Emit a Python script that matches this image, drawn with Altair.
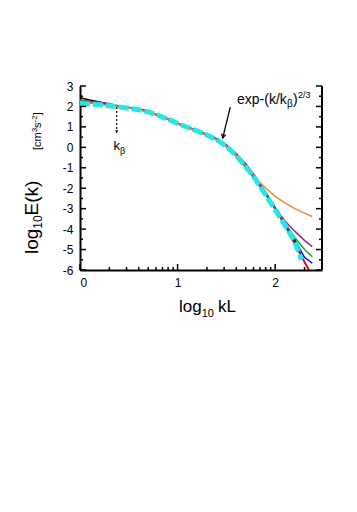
import altair as alt
import pandas as pd

# ---------------- data ----------------
x_grid = [0, 0.1, 0.2, 0.3, 0.4, 0.5, 0.6, 0.7, 0.8, 0.9, 1.0, 1.1, 1.2, 1.3,
          1.4, 1.5, 1.6, 1.7, 1.8, 1.9, 2.0, 2.1, 2.2, 2.3, 2.38]

black_y = [2.42, 2.32, 2.22, 2.10, 2.00, 1.93, 1.86, 1.74, 1.56, 1.38, 1.16, 0.98, 0.80, 0.60,
           0.38, 0.06, -0.38, -0.92, -1.55, -2.27, -3.02, -3.80, -4.65, -5.60, -6.30]
red_y = [2.30, 2.25, 2.17, 2.08, 2.00, 1.93, 1.86, 1.74, 1.56, 1.38, 1.17, 0.98, 0.80, 0.60,
         0.38, 0.07, -0.37, -0.90, -1.53, -2.25, -3.00, -3.80, -4.75, -5.60, -6.25]
blue_y = [2.28, 2.24, 2.16, 2.08, 2.01, 1.95, 1.90, 1.76, 1.58, 1.40, 1.18, 1.00, 0.82, 0.63,
          0.42, 0.12, -0.30, -0.82, -1.45, -2.18, -2.95, -3.72, -4.50, -5.38, -5.67]
green_y = [2.30, 2.24, 2.15, 2.06, 1.98, 1.92, 1.85, 1.73, 1.55, 1.36, 1.15, 0.96, 0.78, 0.58,
           0.36, 0.03, -0.43, -1.00, -1.62, -2.30, -3.00, -3.70, -4.40, -5.00, -5.35]
purple_y = [2.25, 2.22, 2.20, 2.15, 2.02, 1.95, 1.88, 1.75, 1.57, 1.38, 1.17, 0.98, 0.80, 0.61,
            0.40, 0.10, -0.33, -0.86, -1.48, -2.20, -2.95, -3.60, -4.10, -4.55, -4.86]
orange_y = [2.20, 2.16, 2.10, 2.04, 1.98, 1.92, 1.84, 1.72, 1.56, 1.38, 1.16, 0.97, 0.79, 0.60,
            0.38, 0.06, -0.38, -0.90, -1.50, -1.98, -2.40, -2.72, -3.00, -3.22, -3.38]

fit_x = [0, 0.1, 0.2, 0.3, 0.4, 0.5, 0.6, 0.7, 0.8, 0.9, 1.0, 1.1, 1.2, 1.3,
         1.4, 1.5, 1.6, 1.7, 1.8, 1.9, 2.0, 2.1, 2.2, 2.27]
fit_y = [2.15, 2.12, 2.08, 2.03, 1.97, 1.91, 1.84, 1.73, 1.57, 1.38, 1.17, 0.98, 0.80, 0.60,
         0.38, 0.05, -0.40, -0.95, -1.58, -2.30, -3.05, -3.80, -4.60, -5.50]

series = [("black", black_y, "#000000"),
          ("red", red_y, "#ff0000"),
          ("blue", blue_y, "#0000ff"),
          ("green", green_y, "#22a722"),
          ("purple", purple_y, "#9e2a90"),
          ("orange", orange_y, "#f7882f")]
fit_color = "#22e8e8"

X_MIN, X_MAX = 0.0, 2.48
Y_MIN, Y_MAX = -6.0, 3.0
x_major = [0, 1, 2]
x_minor = [0.301, 0.477, 0.602, 0.699, 0.778, 0.845, 0.903, 0.954,
           1.301, 1.477, 1.602, 1.699, 1.778, 1.845, 1.903, 1.954, 2.301]
y_major = [-6, -5, -4, -3, -2, -1, 0, 1, 2, 3]
y_minor = [-5.5, -4.5, -3.5, -2.5, -1.5, -0.5, 0.5, 1.5, 2.5]

# annotation arrows (data coordinates)
kb_arrow = {"x": [0.376], "y": [1.97], "x2": [0.376], "y2": [0.74]}
kb_head = {"x": [0.376], "y": [0.68]}
fit_arrow = {"x": [1.54], "y": [1.97], "x2": [1.463], "y2": [0.46]}

# ---------------- chart ----------------
W, H = 242, 184
FONT = "Liberation Sans"
xs = alt.Scale(domain=[X_MIN, X_MAX], nice=False, zero=False)
ys = alt.Scale(domain=[Y_MIN, Y_MAX], nice=False, zero=False)

xaxis = alt.Axis(values=x_major, ticks=False, labelPadding=7, labelFontSize=12,
                 labelFont=FONT, labelColor="black", domainColor="black",
                 domainWidth=2, grid=False, title=None,
                 labelExpr="'' + datum.value")
yaxis = alt.Axis(values=y_major, ticks=False, labelPadding=7, labelFontSize=12,
                 labelFont=FONT, labelColor="black", domainColor="black",
                 domainWidth=2, grid=False, title=None,
                 labelExpr="'' + datum.value")

X = alt.X("x:Q", scale=xs, axis=xaxis)
Y = alt.Y("y:Q", scale=ys, axis=yaxis)

layers = []
for name, yv, col in series:
    d = pd.DataFrame({"x": x_grid, "y": yv})
    layers.append(alt.Chart(d).mark_line(color=col, strokeWidth=1.5, clip=True)
                  .encode(x=X, y=Y))

fit_df = pd.DataFrame({"x": fit_x, "y": fit_y})
layers.append(alt.Chart(fit_df).mark_line(color=fit_color, strokeWidth=5,
                                          strokeDash=[10, 3], clip=True)
              .encode(x=X, y=Y))


# inward ticks drawn as stroked symbol paths (length = sqrt(size)/2 px)
def tick_layer(xv, yv, path, length):
    d = pd.DataFrame({"x": xv, "y": yv})
    return alt.Chart(d).mark_point(shape=path, filled=False, color="black",
                                   strokeWidth=1.5, opacity=1,
                                   size=(2 * length) ** 2).encode(x=X, y=Y)


RIGHT = "M 0 0 L 1 0"
LEFT = "M 0 0 L -1 0"
UP = "M 0 0 L 0 -1"
layers += [
    tick_layer([X_MIN] * len(y_major), y_major, RIGHT, 6),
    tick_layer([X_MIN] * len(y_minor), y_minor, RIGHT, 3),
    tick_layer([X_MAX] * len(y_major), y_major, LEFT, 6),
    tick_layer([X_MAX] * len(y_minor), y_minor, LEFT, 3),
    tick_layer(x_major, [Y_MIN] * len(x_major), UP, 6),
    tick_layer(x_minor, [Y_MIN] * len(x_minor), UP, 3),
]
# right border
layers.append(alt.Chart(pd.DataFrame({"x": [X_MAX], "y": [Y_MIN]})).mark_point(
    shape=UP, filled=False, color="black", strokeWidth=2, opacity=1,
    size=(2 * H) ** 2).encode(x=X, y=Y))

# arrows
layers.append(alt.Chart(pd.DataFrame(kb_arrow)).mark_rule(
    color="black", strokeWidth=1.2, strokeDash=[2, 2]).encode(
    x=X, y=Y, x2="x2:Q", y2="y2:Q"))
layers.append(alt.Chart(pd.DataFrame(kb_head)).mark_point(
    shape="M -0.5 -1 L 0 0 L 0.5 -1 Z", filled=True, color="black",
    size=40, opacity=1).encode(x=X, y=Y))
layers.append(alt.Chart(pd.DataFrame(fit_arrow)).mark_rule(
    color="black", strokeWidth=1.3).encode(x=X, y=Y, x2="x2:Q", y2="y2:Q"))
layers.append(alt.Chart(pd.DataFrame({"x": [fit_arrow["x2"][0]],
                                      "y": [fit_arrow["y2"][0]]})).mark_point(
    shape="M -0.55 -1 L 0 0 L 0.55 -1", filled=False, color="black",
    strokeWidth=1.3, size=60, angle=13, opacity=1).encode(x=X, y=Y))

# text pieces (pixel positions relative to the plot area)
one = pd.DataFrame({"a": [0]})


def txt(s, x, y, size, angle=0, align="left"):
    kw = dict(text=s, font=FONT, fontSize=size, color="black", align=align,
              baseline="alphabetic")
    if angle:
        kw["angle"] = angle
    return alt.Chart(one).mark_text(**kw).encode(x=alt.value(x), y=alt.value(y))


texts = [
    # x title
    txt("log", 99, 226, 17), txt("10", 121.7, 231, 11), txt("kL", 138, 226, 17),
    # y title
    txt("log", -42, 168, 19, 270), txt("10", -38, 142.7, 12, 270),
    txt("E(k)", -42, 129.4, 19, 270),
    txt("[cm", -39, 64, 11, 270), txt("3", -43, 46.3, 8, 270),
    txt("s", -39, 41.9, 11, 270), txt("-2", -43, 36.4, 8, 270),
    txt("]", -39, 29.3, 11, 270),
    # fit label
    txt("exp-(k/k", 157, 17.5, 14), txt("β", 207, 21, 10),
    txt(")", 213, 17.5, 14), txt("2/3", 218, 12, 9),
    # k_beta label
    txt("k", 33.5, 64, 13), txt("β", 40, 68, 9),
]
layers += texts

chart = alt.layer(*layers).properties(
    width=W, height=H,
    autosize=alt.AutoSizeParams(type="none"),
    padding={"left": 72, "top": 78, "right": 25, "bottom": 60},
).configure_view(stroke=None)

chart.save("out.html", embed_options={"renderer": "svg", "actions": False})
